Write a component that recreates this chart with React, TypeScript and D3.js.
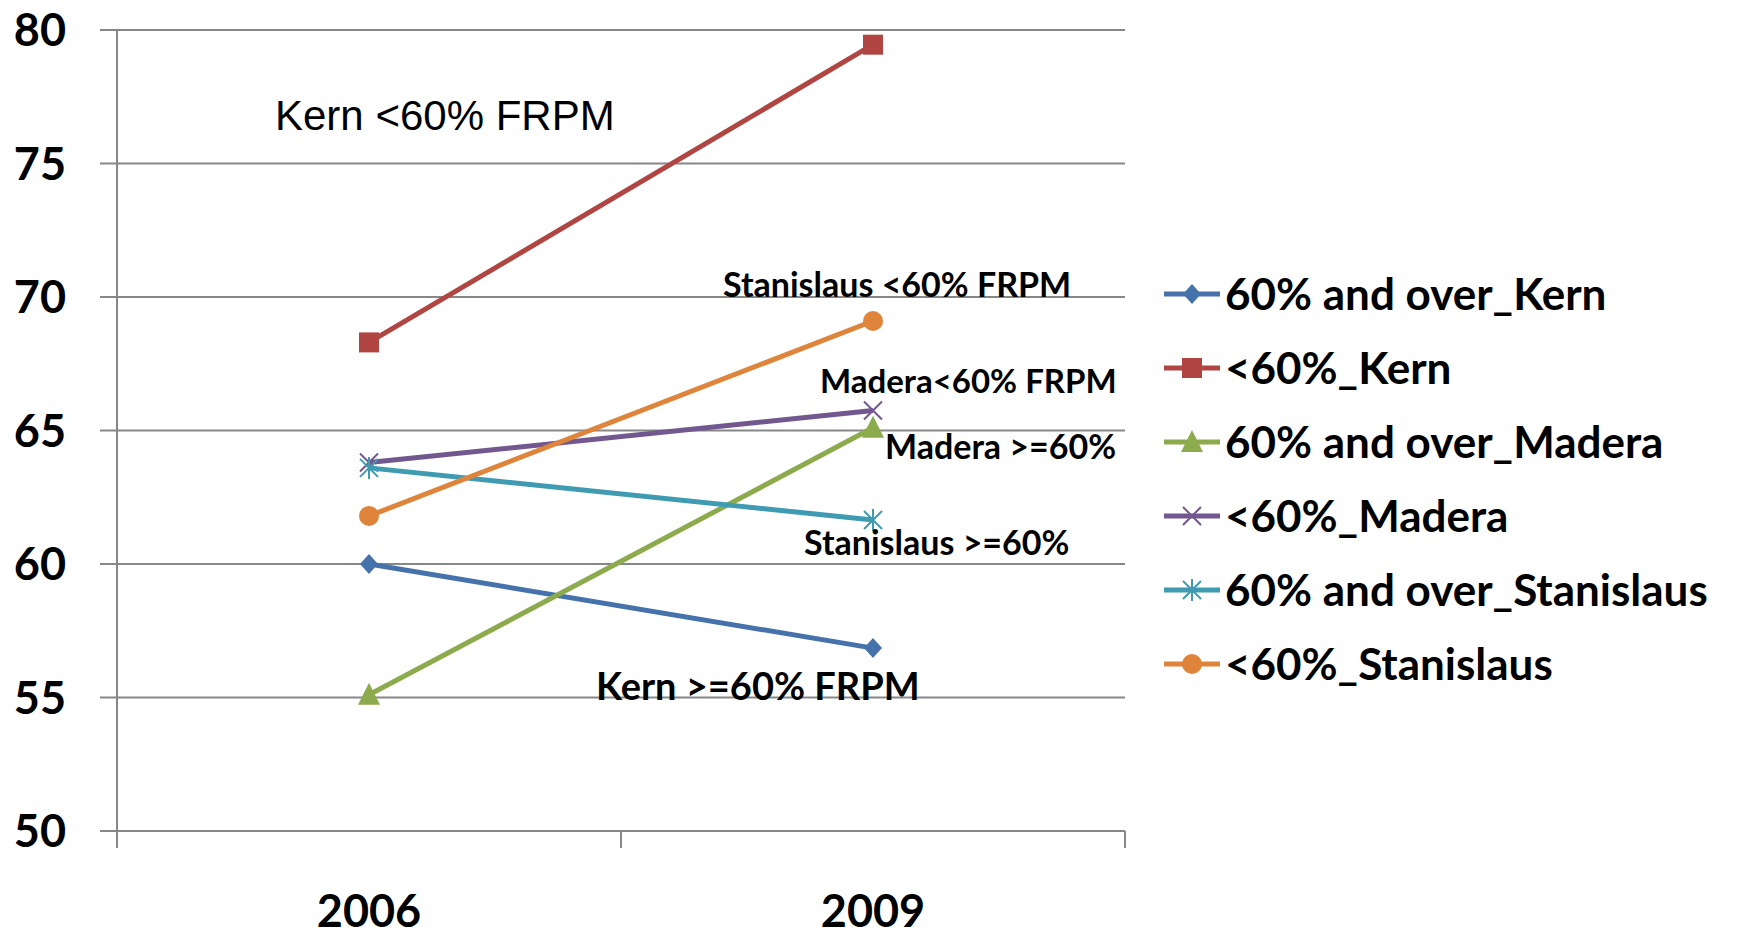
import React from "react"
import * as d3 from "d3"

// chart data
const years = ["2006", "2009"]
const seriesNames = [
  "60% and over_Kern",
  "<60%_Kern",
  "60% and over_Madera",
  "<60%_Madera",
  "60% and over_Stanislaus",
  "<60%_Stanislaus",
]
const kernOver = [60.0, 56.85]
const kernUnder = [68.3, 79.45]
const maderaOver = [55.1, 65.1]
const maderaUnder = [63.8, 65.75]
const stanOver = [63.6, 61.65]
const stanUnder = [61.8, 69.1]
const seriesValues = [kernOver, kernUnder, maderaOver, maderaUnder, stanOver, stanUnder]
const yTicks = [50, 55, 60, 65, 70, 75, 80]

// annotations: text, year index, value where the baseline sits
const notes = [
  { text: "Kern <60% FRPM", year: 0, value: 76.25, dx: -94, bold: false, size: 42 },
  { text: "Stanislaus <60% FRPM", year: 1, value: 70.0, dx: -150, bold: true, size: 34 },
  { text: "Madera<60% FRPM", year: 1, value: 66.4, dx: -53, bold: true, size: 33 },
  { text: "Madera >=60%", year: 1, value: 63.93, dx: 12, bold: true, size: 34 },
  { text: "Stanislaus >=60%", year: 1, value: 60.34, dx: -69, bold: true, size: 34 },
  { text: "Kern >=60% FRPM", year: 1, value: 54.9, dx: -277, bold: true, size: 38 },
]

const colors = ["#4672AC", "#B14541", "#8CAB4D", "#72588F", "#3E9BB1", "#DF843B"]
const markers = ["diamond", "square", "triangle", "x", "star", "circle"]

const BOLD = "Lato, 'Noto Sans', sans-serif"
const REG = "'Liberation Sans', Arial, sans-serif"

function Marker({ kind, x, y, color }: { kind: string; x: number; y: number; color: string }) {
  if (kind === "diamond") return <path d={`M${x},${y - 10}L${x + 9},${y}L${x},${y + 10}L${x - 9},${y}Z`} fill={color} />
  if (kind === "square") return <rect x={x - 10} y={y - 10} width={20} height={20} fill={color} />
  if (kind === "triangle") return <path d={`M${x},${y - 12}L${x + 11},${y + 10}L${x - 11},${y + 10}Z`} fill={color} />
  if (kind === "circle") return <circle cx={x} cy={y} r={10} fill={color} />
  if (kind === "x")
    return (
      <path d={`M${x - 9},${y - 9}L${x + 9},${y + 9}M${x - 9},${y + 9}L${x + 9},${y - 9}`} stroke={color} strokeWidth={2} />
    )
  return (
    <path
      d={`M${x - 9},${y - 9}L${x + 9},${y + 9}M${x - 9},${y + 9}L${x + 9},${y - 9}M${x},${y - 11}L${x},${y + 11}`}
      stroke={color}
      strokeWidth={2}
    />
  )
}

export default function App() {
  const W = 1738, H = 937
  const left = 117, right = 1125, top = 30, bottom = 831

  const x = d3.scaleBand().domain(years).range([left, right])
  const y = d3.scaleLinear().domain([50, 80]).range([bottom, top])
  const cx = (i: number) => (x(years[i]) as number) + x.bandwidth() / 2
  const line = d3.line<number>().x((_, i) => cx(i)).y(d => y(d))

  const grid = "#878787"
  const legendY = d3.scalePoint().domain(seriesNames).range([294, 664])

  return (
    <svg width={W} height={H} style={{ position: "absolute", left: 0, top: 0, background: "#fff" }}>
      {yTicks.map(t => (
        <g key={t}>
          <line x1={100} x2={right} y1={y(t)} y2={y(t)} stroke={grid} strokeWidth={2} />
          <text x={66} y={y(t) + 16} textAnchor="end" fontFamily={BOLD} fontWeight={700} fontSize={45} fill="#000">
            {t}
          </text>
        </g>
      ))}
      <line x1={left} x2={left} y1={top} y2={bottom + 17} stroke={grid} strokeWidth={2} />
      {[0, 1, 2].map(i => {
        const tx = left + i * x.bandwidth()
        return <line key={i} x1={tx} x2={tx} y1={bottom} y2={bottom + 17} stroke={grid} strokeWidth={2} />
      })}
      {years.map((yr, i) => (
        <text key={yr} x={cx(i)} y={927} textAnchor="middle" fontFamily={BOLD} fontWeight={700} fontSize={45}>
          {yr}
        </text>
      ))}

      {seriesValues.map((vals, s) => (
        <g key={seriesNames[s]}>
          <path d={line(vals) as string} fill="none" stroke={colors[s]} strokeWidth={5} />
          {vals.map((v, i) => (
            <Marker key={i} kind={markers[s]} x={cx(i)} y={y(v)} color={colors[s]} />
          ))}
        </g>
      ))}

      {notes.map(n => (
        <text
          key={n.text}
          x={cx(n.year) + n.dx}
          y={y(n.value)}
          fontFamily={n.bold ? BOLD : REG}
          fontWeight={n.bold ? 700 : 400}
          fontSize={n.size}
        >
          {n.text}
        </text>
      ))}

      {seriesNames.map((name, s) => {
        const ly = legendY(name) as number
        return (
          <g key={name}>
            <line x1={1164} x2={1220} y1={ly} y2={ly} stroke={colors[s]} strokeWidth={5} />
            <Marker kind={markers[s]} x={1192} y={ly} color={colors[s]} />
            <text x={1225} y={ly + 16} fontFamily={BOLD} fontWeight={700} fontSize={44}>
              {name}
            </text>
          </g>
        )
      })}
    </svg>
  )
}
